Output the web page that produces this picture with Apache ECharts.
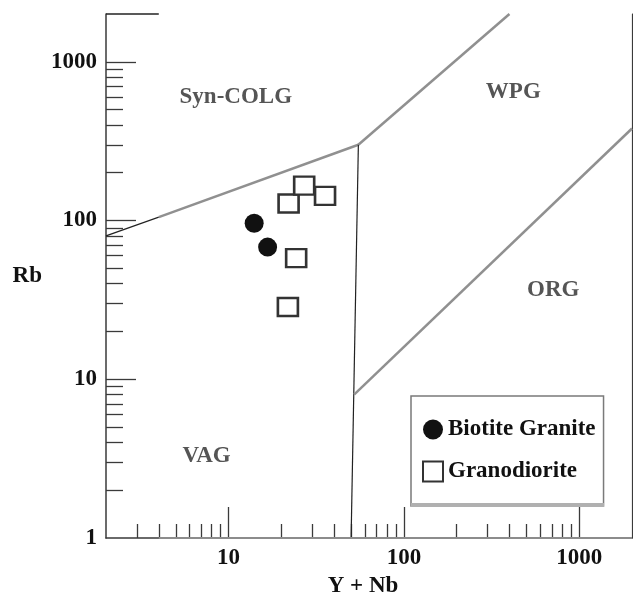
<!DOCTYPE html>
<html>
<head>
<meta charset="utf-8">
<script src="https://cdn.jsdelivr.net/npm/echarts@6/dist/echarts.min.js"></script>
<style>html,body{margin:0;padding:0;background:#fff;}#c{width:633px;height:603px;}</style>
</head>
<body>
<div id="c"></div>
<script>
// ---- data ----
var biotiteGranite = [[14, 96], [16.7, 68]];
var granodiorite = [[22, 128], [27, 166], [35.5, 143], [24.3, 58], [21.8, 28.5]];
// discriminant boundaries (Pearce et al.)
var synColgVagDark = [[2, 80], [4, 105]];
var synColgVag = [[4, 105], [55, 300]];
var wpgSynColg = [[55, 300], [400, 2000]];
var vagWpg = [[50, 1], [55, 300]];
var orgWpg = [[52, 8], [2000, 380]];
var topEdge = [[2, 2000], [4, 2000]];
var xBaseGrey = [[4, 1], [2000, 1]];
var regionLabels = [
  {name: 'Syn-COLG', value: [11, 596]},
  {name: 'WPG', value: [421, 640]},
  {name: 'ORG', value: [711, 36.5]},
  {name: 'VAG', value: [7.5, 3.3]}
];
var xMajorTicks = [10, 100, 1000];
var xMinorTicks = [3, 4, 5, 6, 7, 8, 9, 20, 30, 40, 50, 60, 70, 80, 90, 200, 300, 400, 500, 600, 700, 800, 900];
var yMajorTicks = [10, 100, 1000];
var yLabels = [1, 10, 100, 1000];
var yMinorTicks = [2, 3, 4, 5, 6, 7, 8, 9, 20, 30, 40, 50, 60, 70, 80, 90, 200, 300, 400, 500, 600, 700, 800, 900];

var FONT = 'Liberation Serif';
var FS = 23;
var dark = '#3a3a3a';
var grey = '#909090';

function lineSeries(data, color, width, clip) {
  return {
    type: 'line', data: data, symbol: 'none', silent: true,
    clip: clip !== false, z: 1,
    lineStyle: {color: color, width: width}
  };
}

var chart = echarts.init(document.getElementById('c'));
chart.setOption({
  animation: false,
  backgroundColor: '#fff',
  grid: {left: 106, right: 1, top: 14, bottom: 61, containLabel: false},
  xAxis: [
    {
      type: 'log', logBase: 10, min: 2, max: 2000,
      name: 'Y + Nb', nameLocation: 'middle', nameGap: 37,
      nameTextStyle: {fontFamily: FONT, fontWeight: 'bold', fontSize: FS, color: '#111', padding: [0, 12, 0, 0]},
      axisLine: {show: true, lineStyle: {color: dark, width: 1.5}},
      axisTick: {show: true, inside: true, length: 31, customValues: xMajorTicks, lineStyle: {color: dark, width: 1.3}},
      axisLabel: {show: true, customValues: xMajorTicks, margin: 9, fontFamily: FONT, fontWeight: 'bold', fontSize: FS, color: '#111',
        formatter: function (v) { return String(Math.round(v)); }},
      splitLine: {show: false}, minorTick: {show: false}
    },
    {
      type: 'log', logBase: 10, min: 2, max: 2000, position: 'bottom',
      axisLine: {show: false},
      axisTick: {show: true, inside: true, length: 14, customValues: xMinorTicks, lineStyle: {color: dark, width: 1.3}},
      axisLabel: {show: false}, splitLine: {show: false}
    }
  ],
  yAxis: [
    {
      type: 'log', logBase: 10, min: 1, max: 2000, position: 'left',
      name: 'Rb', nameLocation: 'middle', nameGap: 64, nameRotate: 0,
      nameTextStyle: {fontFamily: FONT, fontWeight: 'bold', fontSize: FS, color: '#111'},
      axisLine: {show: true, lineStyle: {color: dark, width: 1.5}},
      axisTick: {show: true, inside: true, length: 30, customValues: yMajorTicks, lineStyle: {color: dark, width: 1.3}},
      axisLabel: {show: true, customValues: yLabels, margin: 9, fontFamily: FONT, fontWeight: 'bold', fontSize: FS, color: '#111',
        formatter: function (v) { return String(Math.round(v)); }},
      splitLine: {show: false}
    },
    {
      type: 'log', logBase: 10, min: 1, max: 2000, position: 'left',
      axisLine: {show: false},
      axisTick: {show: true, inside: true, length: 17, customValues: yMinorTicks, lineStyle: {color: dark, width: 1.3}},
      axisLabel: {show: false}, splitLine: {show: false}
    },
    {
      type: 'value', position: 'right',
      axisLine: {show: true, lineStyle: {color: dark, width: 1.2}},
      axisTick: {show: false}, axisLabel: {show: false}, splitLine: {show: false}
    }
  ],
  graphic: [
    {type: 'rect', left: 411, top: 503, shape: {width: 193, height: 4}, style: {fill: '#b0b0b0'}, z: 100, silent: true}
  ],
  legend: {
    show: true, orient: 'vertical', left: 411, top: 396,
    data: ['Biotite Granite', 'Granodiorite'],
    itemWidth: 20, itemHeight: 20, itemGap: 19,
    padding: [22, 8, 23, 11],
    backgroundColor: '#fff', borderColor: '#7a7a7a', borderWidth: 1.5,
    textStyle: {fontFamily: FONT, fontWeight: 'bold', fontSize: FS, color: '#111'}
  },
  series: [
    lineSeries(synColgVagDark, '#222', 1.2),
    lineSeries(synColgVag, grey, 2.5),
    lineSeries(wpgSynColg, grey, 2.5),
    lineSeries(vagWpg, '#222', 1.2),
    lineSeries(orgWpg, grey, 2.5),
    lineSeries(topEdge, '#222', 1.5, false),
    lineSeries(xBaseGrey, '#8c8c8c', 2, false),
    {
      type: 'scatter', data: regionLabels, symbolSize: 1, silent: true,
      itemStyle: {color: 'rgba(0,0,0,0)'},
      label: {show: true, position: 'inside', formatter: '{b}', fontFamily: FONT, fontWeight: 'bold', fontSize: FS, color: '#2a2a2a'}
    },
    {
      name: 'Biotite Granite', type: 'scatter', data: biotiteGranite, z: 5,
      symbol: 'circle', symbolSize: 19,
      itemStyle: {color: '#111', opacity: 1}
    },
    {
      name: 'Granodiorite', type: 'scatter', data: granodiorite, z: 5,
      symbol: 'rect', symbolSize: [20, 18],
      itemStyle: {color: '#fff', borderColor: '#333', borderWidth: 2.5, opacity: 1}
    }
  ]
});
</script>
</body>
</html>
